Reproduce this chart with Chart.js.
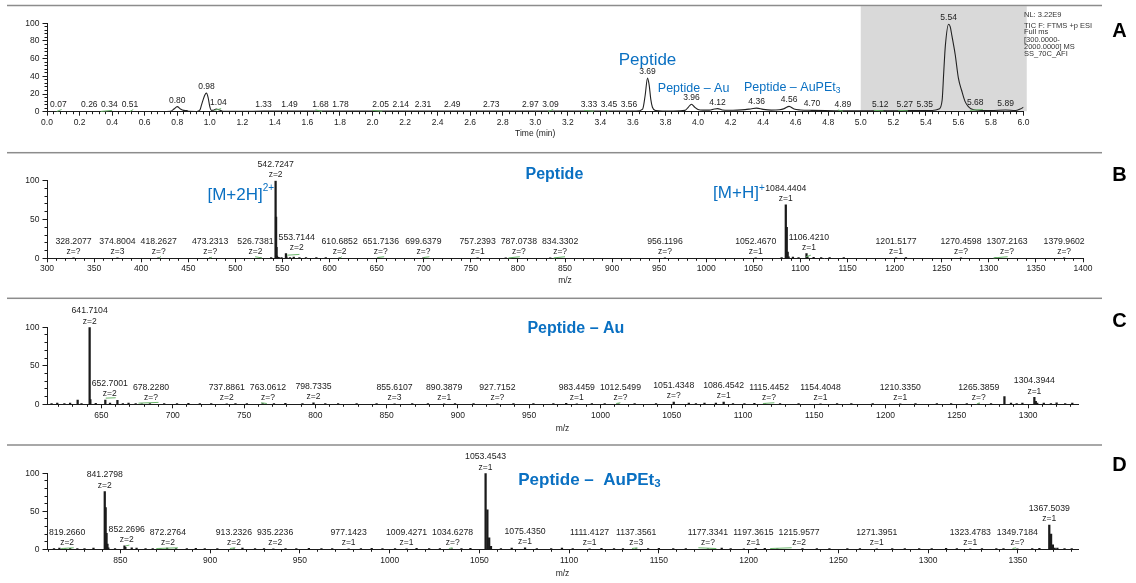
<!DOCTYPE html>
<html>
<head>
<meta charset="utf-8">
<title>LC-MS: TIC and mass spectra</title>
<script src="https://cdn.jsdelivr.net/npm/chart.js@4.4.1/dist/chart.umd.min.js"></script>
<style>
  html, body { margin: 0; padding: 0; background: #ffffff; }
  #figure { position: relative; width: 1136px; height: 583px; overflow: hidden; background: #ffffff; }
  #figure canvas { position: absolute; left: 0; }
</style>
</head>
<body>
<div id="figure">
  <canvas id="panelA" width="1136" height="145" style="top:0px"></canvas>
  <canvas id="panelB" width="1136" height="150" style="top:145px"></canvas>
  <canvas id="panelC" width="1136" height="145" style="top:295px"></canvas>
  <canvas id="panelD" width="1136" height="143" style="top:440px"></canvas>
</div>
<script>
const SANS = "'Liberation Sans', Arial, Helvetica, sans-serif";
const INK = '#1b1b1b';
const BLUE = '#0a70c2';
const GREEN = 'rgba(100,178,100,0.95)';
const RULE = '#8c8c8c';

/* ---------- A: total ion current chromatogram ---------- */
const ticTime = [0.00, 0.10, 0.20, 0.30, 0.40, 0.50, 0.60, 0.70, 0.76, 0.78, 0.80, 0.82, 0.84, 0.86, 0.87, 0.92,
  0.94, 0.95, 0.97, 0.98, 0.99, 1.00, 1.01, 1.02, 1.04, 1.06, 1.08, 1.10, 1.20, 1.33, 1.49, 1.68, 1.78, 2.05,
  2.14, 2.31, 2.49, 2.73, 2.97, 3.09, 3.33, 3.45, 3.56, 3.62, 3.66, 3.675, 3.69, 3.70, 3.71, 3.72, 3.74, 3.78,
  3.85, 3.92, 3.94, 3.96, 3.98, 4.00, 4.03, 4.07, 4.10, 4.12, 4.15, 4.19, 4.24, 4.29, 4.33, 4.36, 4.40, 4.45,
  4.50, 4.53, 4.56, 4.59, 4.63, 4.70, 4.78, 4.89, 5.00, 5.12, 5.20, 5.27, 5.35, 5.44, 5.48, 5.50, 5.51, 5.52,
  5.54, 5.55, 5.56, 5.58, 5.60, 5.62, 5.64, 5.66, 5.68, 5.72, 5.80, 5.89, 5.95, 5.98, 6.00];
const ticRel = [0.3, 0.3, 0.3, 0.3, 0.3, 0.3, 0.3, 0.3, 0.5, 3.0, 5.7, 3.0, 1.5, 1.3, 0.4, 0.3,
  2.0, 8.0, 19.0, 21.0, 16.0, 6.0, 1.5, 1.6, 3.0, 2.0, 0.6, 0.4, 0.4, 0.6, 0.6, 0.6, 0.6, 0.6,
  0.6, 0.6, 0.6, 0.6, 0.6, 0.6, 0.6, 0.6, 0.6, 0.6, 3.0, 18.0, 38.0, 30.0, 14.0, 5.0, 1.2, 0.8,
  0.8, 1.5, 5.0, 8.5, 5.0, 2.5, 1.8, 1.8, 3.0, 3.5, 2.0, 1.6, 1.8, 2.4, 3.4, 4.0, 2.6, 1.8,
  2.2, 3.5, 6.0, 3.0, 2.0, 1.5, 1.2, 1.0, 1.0, 1.2, 1.0, 1.2, 1.2, 1.4, 3.0, 13.0, 45.0, 75.0,
  99.0, 96.0, 86.0, 65.0, 38.0, 24.0, 12.0, 6.0, 3.0, 1.6, 1.2, 2.0, 1.3, 3.0, 5.0];
const ticPeakTime = [0.07, 0.26, 0.34, 0.51, 0.80, 0.98, 1.04, 1.33, 1.49, 1.68, 1.78, 2.05, 2.14, 2.31, 2.49,
  2.73, 2.97, 3.09, 3.33, 3.45, 3.56, 3.69, 3.96, 4.12, 4.36, 4.56, 4.70, 4.89, 5.12, 5.27, 5.35, 5.54, 5.68, 5.89];
const ticPeakRel = [0.3, 0.3, 0.3, 0.3, 5.7, 21.0, 3.0, 0.6, 0.6, 0.6, 0.6, 0.6, 0.6, 0.6, 0.6,
  0.6, 0.6, 0.6, 0.6, 0.6, 0.6, 38.0, 8.5, 3.5, 4.0, 6.0, 1.5, 1.0, 1.2, 1.2, 1.2, 99.0, 3.0, 2.0];
const ticXLabels = [0.0, 0.2, 0.4, 0.6, 0.8, 1.0, 1.2, 1.4, 1.6, 1.8, 2.0, 2.2, 2.4, 2.6, 2.8, 3.0,
  3.2, 3.4, 3.6, 3.8, 4.0, 4.2, 4.4, 4.6, 4.8, 5.0, 5.2, 5.4, 5.6, 5.8, 6.0];
const ticYLabels = [0, 20, 40, 60, 80, 100];
const ticShade = [5.0, 6.02];
const ticInfo = ['NL: 3.22E9', 'TIC F: FTMS +p ESI', 'Full ms', '[300.0000-', '2000.0000] MS', 'SS_70C_AFI'];
const ticMarks = [[0.06, 0.3, 0.09, 2.5], [0.33, 0.3, 0.40, 1.5], [0.51, 0.3, 0.53, 2.5], [1.03, 1.5, 1.07, 3.5],
  [1.65, 2.0, 1.69, 0.3], [2.00, 1.5, 2.06, 0.5], [3.08, 0.3, 3.11, 2.5], [3.30, 1.5, 3.36, 0.5],
  [3.43, 1.5, 3.45, 0.5], [4.86, 2.0, 4.89, 0.5], [5.08, 1.5, 5.14, 1.0], [5.23, 1.5, 5.29, 1.0], [5.67, 1.5, 5.75, 2.5]];

/* ---------- B: peptide spectrum ---------- */
const pepMz = [328.2077, 374.8004, 418.2627, 473.2313, 526.7381, 542.7247, 553.7144, 610.6852, 651.7136, 699.6379,
  757.2393, 787.0738, 834.3302, 956.1196, 1052.4670, 1084.4404, 1106.4210, 1201.5177, 1270.4598, 1307.2163, 1379.9602];
const pepRel = [0.6, 0.6, 0.6, 0.6, 0.6, 100, 6, 0.6, 0.6, 0.6, 0.6, 0.6, 0.6, 0.6, 0.6, 69, 6, 0.6, 0.6, 0.6, 0.6];
const pepZ = ['z=?', 'z=3', 'z=?', 'z=?', 'z=2', 'z=2', 'z=2', 'z=2', 'z=?', 'z=?', 'z=1', 'z=?', 'z=?', 'z=?',
  'z=1', 'z=1', 'z=1', 'z=1', 'z=?', 'z=?', 'z=?'];
const pepExtraMz = [543.2262, 543.7276, 544.229, 554.215, 1085.4437, 1086.446, 1087.45, 1107.42,
  538, 546, 549, 558, 562, 568, 575, 586, 596, 1080, 1092, 1098, 1114, 1122, 1131, 1146, 1212];
const pepExtraRel = [53, 14, 3, 2, 40, 8, 2, 2,
  1, 1.2, 1, 1, 1.5, 1, 1, 1, 1, 1, 1.5, 1, 1.2, 1, 1, 1, 1];
const pepXLabels = [300, 350, 400, 450, 500, 550, 600, 650, 700, 750, 800, 850, 900, 950, 1000, 1050,
  1100, 1150, 1200, 1250, 1300, 1350, 1400];
const pepMarks = [[419, 0.3, 421, 2.5], [473, 0.3, 475, 1.5], [521, 2, 528, 0.5], [555, 4, 568, 5],
  [611, 0.3, 613, 2], [651, 1, 658, 2], [700, 1, 706, 2], [790, 0.5, 802, 2], [838, 0.5, 850, 2],
  [1106, 2, 1111, 4], [1305, 0.5, 1320, 2]];

/* ---------- C: peptide - Au spectrum ---------- */
const auMz = [641.7104, 652.7001, 678.2280, 737.8861, 763.0612, 798.7335, 855.6107, 890.3879, 927.7152, 983.4459,
  1012.5499, 1051.4348, 1086.4542, 1115.4452, 1154.4048, 1210.3350, 1265.3859, 1304.3944];
const auRel = [100, 5.5, 0.6, 0.6, 0.8, 2, 0.6, 0.6, 0.6, 0.6, 0.6, 3, 3, 0.4, 0.6, 0.6, 0.6, 9];
const auZ = ['z=2', 'z=2', 'z=?', 'z=2', 'z=?', 'z=2', 'z=3', 'z=1', 'z=?', 'z=1', 'z=?', 'z=?', 'z=1', 'z=?',
  'z=1', 'z=1', 'z=?', 'z=1'];
const auExtraMz = [633.3, 642.21, 661.2, 1283.4, 1305.4, 1306.4,
  615, 619, 624, 628, 636, 646, 656, 665, 669, 674, 684, 694, 703, 711, 719, 727, 744, 752, 771, 779, 791, 807,
  816, 829, 843, 868, 879, 898, 911, 939, 953, 967, 976, 994, 1003, 1024, 1039, 1062, 1067, 1073, 1081, 1093,
  1101, 1108, 1126, 1139, 1166, 1176, 1191, 1221, 1236, 1246, 1257, 1274, 1288, 1292, 1296, 1311, 1316, 1320,
  1326, 1331];
const auExtraRel = [5.5, 6, 5, 10, 4, 1.5,
  1, 1.5, 1, 1.5, 1, 1.2, 1.5, 1, 1.5, 1, 1, 1, 1, 1.2, 1, 1, 1, 1, 1, 1.2, 1, 1,
  1, 1, 1, 1, 1, 1, 1, 1, 1, 1, 1.2, 1, 1, 1, 1, 1.5, 1, 1.5, 1.5, 1,
  1, 1.2, 1, 1, 1, 1, 1, 1, 1, 1, 1, 1, 1.5, 1, 1.5, 1.5, 1, 2,
  1, 1.5];
const auXLabels = [650, 700, 750, 800, 850, 900, 950, 1000, 1050, 1100, 1150, 1200, 1250, 1300];
const auMarks = [[653, 8, 660, 8.5], [676, 1.5, 690, 2.5], [762, 2, 766, 1], [1011, 1, 1014, 2],
  [1114, 1, 1122, 2], [1264, 0.5, 1266, 2]];

/* ---------- D: peptide - AuPEt3 spectrum ---------- */
const aupMz = [819.2660, 841.2798, 852.2696, 872.2764, 913.2326, 935.2236, 977.1423, 1009.4271, 1034.6278,
  1053.4543, 1075.4350, 1111.4127, 1137.3561, 1177.3341, 1197.3615, 1215.9577, 1271.3951, 1323.4783,
  1349.7184, 1367.5039];
const aupRel = [0.6, 76, 4.5, 0.6, 0.6, 0.6, 0.6, 0.6, 0.6, 100, 2, 0.6, 0.6, 0.6, 0.6, 0.6, 0.6, 0.6, 0.6, 32];
const aupZ = ['z=2', 'z=2', 'z=2', 'z=2', 'z=2', 'z=2', 'z=1', 'z=1', 'z=?', 'z=1', 'z=1', 'z=1', 'z=3', 'z=?',
  'z=1', 'z=2', 'z=1', 'z=1', 'z=?', 'z=1'];
const aupExtraMz = [841.78, 842.28, 842.78, 843.28, 852.77, 856.3, 1054.45, 1055.45, 1056.45, 1368.5, 1369.5, 1370.5,
  813, 816, 822, 826, 830, 835, 847, 859, 864, 868, 876, 881, 887, 892, 897, 904, 918, 925, 930, 942, 948, 955,
  962, 968, 984, 990, 996, 1003, 1015, 1022, 1028, 1040, 1045, 1062, 1068, 1082, 1090, 1096, 1102, 1118, 1125,
  1130, 1144, 1150, 1158, 1165, 1185, 1190, 1204, 1209, 1230, 1238, 1245, 1255, 1262, 1280, 1287, 1295, 1302,
  1310, 1316, 1330, 1338, 1342, 1358, 1362, 1372, 1376, 1380];
const aupExtraRel = [55, 21, 7, 2, 2.5, 2, 52, 15, 4, 20, 6, 1.5,
  1, 1.5, 1.2, 1, 1, 1.5, 1, 1.5, 1, 1, 1.5, 1, 1, 1.2, 1, 1, 1.5, 1, 1, 1, 1, 1.2,
  1, 1, 1, 1.2, 1, 1, 1.2, 1, 1, 1, 1.2, 1, 1.5, 1, 1, 1.5, 1, 1.2, 1,
  1, 1, 1.2, 1, 1, 1.5, 1, 1, 1.2, 1, 1, 1, 1, 1, 1, 1, 1, 1,
  1.2, 1, 1, 1, 1, 1, 1.2, 1.5, 1, 1];
const aupXLabels = [850, 900, 950, 1000, 1050, 1100, 1150, 1200, 1250, 1300, 1350];
const aupMarks = [[817, 1, 824, 2], [853, 4.5, 855, 5.5], [870, 1, 882, 2], [911, 1, 914, 2], [1033, 1, 1035, 2],
  [1135, 1, 1138, 2], [1172, 2, 1182, 1], [1212, 1, 1224, 2], [1347, 1, 1349, 2]];

const spectrumYLabels = [0, 50, 100];

/* ---------- helpers ---------- */
function tickList(values) { return values.map(v => ({ value: v })); }
function stepTicks(min, max, step) {
  const out = [];
  const first = Math.ceil(min / step - 1e-9), last = Math.floor(max / step + 1e-9);
  for (let k = first; k <= last; k++) out.push({ value: +(k * step).toFixed(6) });
  return out;
}
function font(size, weight) { return `${weight || 'normal'} ${size}px ${SANS}`; }
function text(ctx, str, x, y, size, opts) {
  opts = opts || {};
  ctx.font = font(size, opts.weight);
  ctx.fillStyle = opts.color || INK;
  ctx.textAlign = opts.align || 'center';
  ctx.textBaseline = 'middle';
  ctx.fillText(str, x, y);
}
// runs: [string, size, weight, dy]
function runs(ctx, parts, x, y, align, color) {
  const widths = parts.map(p => { ctx.font = font(p[1], p[2]); return ctx.measureText(p[0]).width; });
  const total = widths.reduce((a, b) => a + b, 0);
  let cx = align === 'right' ? x - total : align === 'center' ? x - total / 2 : x;
  ctx.textAlign = 'left'; ctx.textBaseline = 'middle'; ctx.fillStyle = color || BLUE;
  parts.forEach((p, i) => { ctx.font = font(p[1], p[2]); ctx.fillText(p[0], cx, y + p[3]); cx += widths[i]; });
}

function axes(g) {
  const tickFont = { family: SANS, size: 8.5 };
  return {
    x: {
      type: 'linear', position: 'bottom', weight: 1, min: g.xMin, max: g.xMax, offset: false,
      afterBuildTicks: s => { s.ticks = tickList(g.xLabels); },
      afterFit: s => { s.height = g.xH; },
      ticks: { autoSkip: false, maxRotation: 0, minRotation: 0, padding: g.xPad, color: INK, font: tickFont, callback: g.xFmt },
      grid: { drawOnChartArea: false, drawTicks: true, tickLength: 4, color: INK, tickWidth: 1, offset: false },
      border: { display: true, color: INK, width: 1 },
      title: { display: true, text: g.xTitle, color: INK, font: tickFont, padding: { top: 0, bottom: 0 } }
    },
    xMinor: {
      type: 'linear', position: 'bottom', weight: 0, min: g.xMin, max: g.xMax, offset: false,
      afterBuildTicks: s => { s.ticks = stepTicks(g.xMin, g.xMax, g.xMinor); },
      afterFit: s => { s.height = 0; },
      ticks: { display: false },
      grid: { drawOnChartArea: false, drawTicks: true, tickLength: 2.5, color: INK, tickWidth: 1, offset: false },
      border: { display: false }
    },
    y: {
      type: 'linear', position: 'left', weight: 1, min: 0, max: 100,
      afterBuildTicks: s => { s.ticks = tickList(g.yLabels); },
      afterFit: s => { s.width = 40; },
      ticks: { autoSkip: false, padding: 3, color: INK, font: tickFont, callback: v => String(v) },
      grid: { drawOnChartArea: false, drawTicks: true, tickLength: 4.5, color: INK, tickWidth: 1 },
      border: { display: true, color: INK, width: 1 }
    },
    yMinor: {
      type: 'linear', position: 'left', weight: 0, min: 0, max: 100,
      afterBuildTicks: s => { s.ticks = stepTicks(0, 100, g.yMinor); },
      afterFit: s => { s.width = 0; },
      ticks: { display: false },
      grid: { drawOnChartArea: false, drawTicks: true, tickLength: 2.5, color: INK, tickWidth: 1 },
      border: { display: false }
    }
  };
}

// Peak labels sit above their peak, slide sideways off any taller mark that
// crosses them, then get pushed right of the previous label on the same row.
function layoutLabels(ctx, chart, p) {
  const { x, y } = chart.scales;
  const twoLine = !!p.z;
  const size = twoLine ? 8.7 : 8.5;
  const gap = twoLine ? 5 : 3.5;
  ctx.font = font(size);
  const items = p.pos.map((v, i) => {
    const px = x.getPixelForValue(v), top = y.getPixelForValue(p.rel[i]);
    const str = twoLine ? v.toFixed(4) : v.toFixed(2);
    const w = ctx.measureText(str).width;
    const yMain = twoLine ? top - 16.5 : top - 6.3;
    const yZ = twoLine ? top - 6 : null;
    return { px, top, str, w, yMain, yZ, z: twoLine ? p.z[i] : null,
      yTop: yMain - 4.5, yBot: (twoLine ? yZ : yMain) + 3.5, cx: px };
  }).sort((a, b) => a.px - b.px);
  const marks = chart.data.datasets[0].data
    .map(d => ({ x: x.getPixelForValue(d.x), top: y.getPixelForValue(d.y) }))
    .sort((a, b) => a.x - b.x);
  const placed = [];
  items.forEach(it => {
    let cx = Math.max(it.px, chart.chartArea.left + 2 + it.w / 2);
    for (const m of marks) {
      if (m.top > it.yBot) continue;
      const l = cx - it.w / 2 - 1.5, r = cx + it.w / 2 + 1.5;
      if (m.x < l || m.x > r) continue;
      cx = m.x > cx ? m.x - 2 - it.w / 2 : m.x + 2 + it.w / 2;
    }
    for (const q of placed) {
      if (q.yBot < it.yTop || q.yTop > it.yBot) continue;
      cx = Math.max(cx, q.cx + (q.w + it.w) / 2 + gap);
    }
    it.cx = cx;
    placed.push(it);
  });
  placed.forEach(it => {
    text(ctx, it.str, it.cx, it.yMain, size, { color: '#222' });
    if (it.z) text(ctx, it.z, it.cx, it.yZ, 8.5, { color: '#222' });
  });
}

// Rules, panel letter, shading, baseline marks, peak labels and blue annotations
function decor(spec) {
  return {
    id: 'decor' + spec.letter,
    beforeDraw(chart) {
      if (!spec.shade) return;
      const { ctx, chartArea, scales: { x } } = chart;
      const x0 = x.getPixelForValue(spec.shade[0]), x1 = x.getPixelForValue(spec.shade[1]);
      ctx.save();
      ctx.fillStyle = '#d9d9d9';
      ctx.fillRect(x0, spec.ruleY + 0.75, x1 - x0, chartArea.bottom - spec.ruleY - 1.25);
      ctx.restore();
    },
    afterDatasetsDraw(chart) {
      const { ctx, scales: { x, y } } = chart;
      ctx.save();
      ctx.strokeStyle = GREEN; ctx.lineWidth = 1;
      spec.marks.forEach(m => {
        ctx.beginPath();
        ctx.moveTo(x.getPixelForValue(m[0]), y.getPixelForValue(m[1]));
        ctx.lineTo(x.getPixelForValue(m[2]), y.getPixelForValue(m[3]));
        ctx.stroke();
      });
      ctx.restore();
    },
    afterDraw(chart) {
      const { ctx } = chart;
      ctx.save();
      ctx.fillStyle = RULE;
      ctx.fillRect(7, spec.ruleY - 0.75, 1095, 1.5);
      text(ctx, spec.letter, 1119.5, spec.letterY, 20, { weight: 'bold', color: '#000' });
      layoutLabels(ctx, chart, spec.peaks);
      spec.notes(ctx, chart);
      ctx.restore();
    }
  };
}

function makeChart(id, spec, datasets) {
  return new Chart(document.getElementById(id), {
    type: spec.type,
    data: { datasets },
    options: {
      responsive: false, animation: false, events: [],
      layout: { padding: spec.pad },
      plugins: { legend: { display: false }, tooltip: { enabled: false } },
      scales: axes(spec.axes)
    },
    plugins: [decor(spec)]
  });
}

function sticks(mz, rel, extraMz, extraRel) {
  return mz.map((m, i) => ({ x: m, y: rel[i] })).concat(extraMz.map((m, i) => ({ x: m, y: extraRel[i] })));
}
function stickSet(data) {
  return { type: 'bar', data, backgroundColor: INK, borderWidth: 0, barThickness: 1.6, grouped: false,
    xAxisID: 'x', yAxisID: 'y' };
}

/* ---------- A ---------- */
makeChart('panelA', {
  type: 'line', letter: 'A', letterY: 31.7, ruleY: 5.5, shade: ticShade, marks: ticMarks,
  pad: { left: 7, right: 112.5, top: 23.3, bottom: 5.9 },
  axes: { xMin: 0, xMax: 6, xLabels: ticXLabels, xMinor: 0.04, xH: 27.4, xPad: 2.2, xTitle: 'Time (min)',
    xFmt: v => v.toFixed(1), yLabels: ticYLabels, yMinor: 4 },
  peaks: { pos: ticPeakTime, rel: ticPeakRel },
  notes(ctx) {
    runs(ctx, [['Peptide', 17, 'normal', 0]], 647.5, 60, 'center');
    runs(ctx, [['Peptide – Au', 12.5, 'normal', 0]], 657.8, 88.3, 'left');
    runs(ctx, [['Peptide – AuPEt', 12.5, 'normal', 0], ['3', 8.5, 'normal', 3]], 744, 88, 'left');
    const lineY = [15, 25.7, 32.4, 39.7, 46.7, 54.3];
    ticInfo.forEach((s, i) => text(ctx, s, 1024, lineY[i], 7.5, { align: 'left', color: '#333' }));
  }
}, [{
  data: ticTime.map((t, i) => ({ x: t, y: ticRel[i] })),
  borderColor: '#222', borderWidth: 1.1, pointRadius: 0, fill: false, cubicInterpolationMode: 'monotone'
}]);

/* ---------- B ---------- */
makeChart('panelB', {
  type: 'bar', letter: 'B', letterY: 30, ruleY: 7.7, marks: pepMarks,
  pad: { left: 7, right: 53, top: 35.7, bottom: 8.9 },
  axes: { xMin: 300, xMax: 1400, xLabels: pepXLabels, xMinor: 10, xH: 27.8, xPad: 1.6, xTitle: 'm/z',
    xFmt: v => String(v), yLabels: spectrumYLabels, yMinor: 10 },
  peaks: { pos: pepMz, rel: pepRel, z: pepZ },
  notes(ctx, chart) {
    const { x, y } = chart.scales;
    runs(ctx, [['Peptide', 16, 'bold', 0]], 525.5, 30, 'left');
    const p2 = x.getPixelForValue(542.7247);
    runs(ctx, [['[M+2H]', 17, 'normal', 0], ['2+', 10, 'normal', -7]], p2 - 1.5, 50, 'right');
    const p1 = x.getPixelForValue(1084.4404), t1 = y.getPixelForValue(69) - 16.5;
    ctx.font = font(8.7); const w = ctx.measureText('1084.4404').width;
    runs(ctx, [['[M+H]', 17, 'normal', 0], ['+', 10, 'normal', -5.5]], p1 - w / 2 - 0.5, t1 + 5, 'right');
  }
}, [stickSet(sticks(pepMz, pepRel, pepExtraMz, pepExtraRel))]);

/* ---------- C ---------- */
makeChart('panelC', {
  type: 'bar', letter: 'C', letterY: 26.7, ruleY: 3.3, marks: auMarks,
  pad: { left: 7, right: 58, top: 32.3, bottom: 5.9 },
  axes: { xMin: 611.8, xMax: 1335, xLabels: auXLabels, xMinor: 10, xH: 29.8, xPad: 2.5, xTitle: 'm/z',
    xFmt: v => String(v), yLabels: spectrumYLabels, yMinor: 10 },
  peaks: { pos: auMz, rel: auRel, z: auZ },
  notes(ctx) {
    runs(ctx, [['Peptide – Au', 16, 'bold', 0]], 527.4, 33.3, 'left');
  }
}, [stickSet(sticks(auMz, auRel, auExtraMz, auExtraRel))]);

/* ---------- D ---------- */
makeChart('panelD', {
  type: 'bar', letter: 'D', letterY: 25, ruleY: 5, marks: aupMarks,
  pad: { left: 7, right: 58, top: 33.3, bottom: 4.4 },
  axes: { xMin: 809.1, xMax: 1383.5, xLabels: aupXLabels, xMinor: 10, xH: 29.3, xPad: 1.8, xTitle: 'm/z',
    xFmt: v => String(v), yLabels: spectrumYLabels, yMinor: 10 },
  peaks: { pos: aupMz, rel: aupRel, z: aupZ },
  notes(ctx) {
    runs(ctx, [['Peptide –  AuPEt', 17, 'bold', 0], ['3', 11.5, 'bold', 3.5]], 518.2, 40, 'left');
  }
}, [stickSet(sticks(aupMz, aupRel, aupExtraMz, aupExtraRel))]);
</script>
</body>
</html>
